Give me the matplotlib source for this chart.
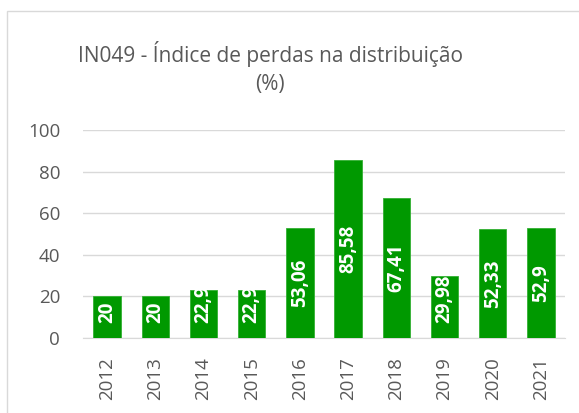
import matplotlib
matplotlib.use("Agg")
import matplotlib.pyplot as plt
from matplotlib.patches import Rectangle
from matplotlib.transforms import TransformedBbox, offset_copy

years = ["2012", "2013", "2014", "2015", "2016", "2017", "2018", "2019", "2020", "2021"]
values = [20, 20, 22.95, 22.95, 53.06, 85.58, 67.41, 29.98, 52.33, 52.9]
labels = ["20", "20", "22,95", "22,95", "53,06", "85,58", "67,41", "29,98", "52,33", "52,9"]
yticks = [0, 20, 40, 60, 80, 100]
title = "IN049 - Índice de perdas na distribuição\n(%)"

plt.rcParams['font.family'] = ['Open Sans', 'DejaVu Sans']
W, H = 579, 413
fig = plt.figure(figsize=(W/100, H/100), dpi=100)
fig.patch.set_facecolor('white')

# chart frame
fig.patches.append(Rectangle((7/W, -0.1), 1.1, 1 - 11/H + 0.1, transform=fig.transFigure,
                             fill=False, edgecolor='#d9d9d9', linewidth=1))

ax = fig.add_axes([83/W, 1 - 338/H, (565-83)/W, (338-130)/H])
green = '#009900'
x = range(len(years))
bars = ax.bar(x, values, width=0.57, color=green, edgecolor='#33b033', linewidth=0.6, zorder=3)
base_tr = offset_copy(ax.transData, fig=fig, x=0, y=15, units='dots')
for b, lab in zip(bars, labels):
    cx = b.get_x() + b.get_width()/2
    h = b.get_height()
    if h < 35:
        t = ax.text(cx, 0, lab, rotation=90, ha='center', va='bottom', color='white',
                    fontsize=13.5, fontweight='bold', zorder=4, transform=base_tr)
    else:
        t = ax.text(cx, h/2, lab, rotation=90, ha='center', va='center', color='white',
                    fontsize=13.5, fontweight='bold', zorder=4)
    t.set_clip_on(True)
    t.set_clip_box(TransformedBbox(b.get_bbox(), ax.transData))

ax.set_ylim(0, 100)
ax.set_xlim(-0.5, len(years) - 0.5)
ax.set_yticks(yticks)
ax.set_yticklabels([str(v) for v in yticks], fontsize=13.5, color='#595959')
ax.set_xticks(list(x))
ax.set_xticklabels(years, rotation=90, fontsize=13.5, color='#595959')
ax.grid(axis='y', color='#d9d9d9', linewidth=1, zorder=0)
for s in ['top', 'right', 'left']:
    ax.spines[s].set_visible(False)
ax.spines['bottom'].set_color('#d9d9d9')
ax.tick_params(length=0)
ax.tick_params(axis='x', pad=14)
ax.tick_params(axis='y', pad=16.5)

fig.text(270/W, 1 - 68/H, title, ha='center', va='center', fontsize=15,
         color='#595959', linespacing=1.45)

fig.savefig("out.png", dpi=100)
